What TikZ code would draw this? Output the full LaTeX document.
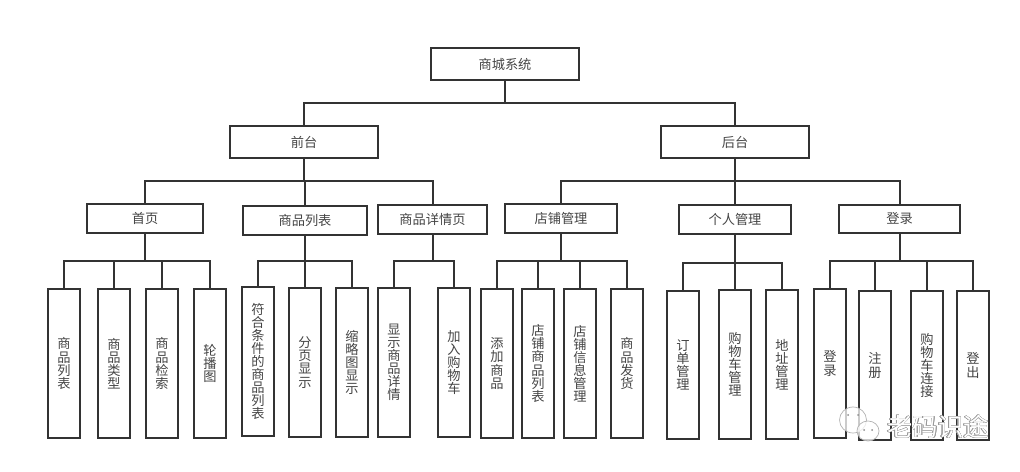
\documentclass[tikz,border=0pt]{standalone}
\usepackage{fontspec}
\usepackage{contour}
\setmainfont{Noto Sans CJK SC}
\contourlength{0.3pt}
\definecolor{linegray}{HTML}{333333}
\definecolor{textgray}{HTML}{444444}
\tikzset{
  topbox/.style={draw=linegray, rectangle, line width=1.42pt, outer sep=0pt, minimum width=3.7cm, minimum height=0.78cm, align=center, text=textgray},
  midbox/.style={draw=linegray, rectangle, line width=1.42pt, outer sep=0pt, minimum height=0.7cm, align=center, text=textgray},
  leafbox/.style={draw=linegray, rectangle, line width=1.42pt, outer sep=0pt, minimum width=0.78cm, minimum height=3.7cm, inner sep=0pt, align=center, text=textgray},
  link/.style={draw=linegray, line width=1.42pt},
  bubble/.style={draw=black!30, line width=0.5pt, fill=white, fill opacity=0.75}
}
\begin{document}
\begin{tikzpicture}[x=0.025cm,y=-0.025cm,font=\fontsize{9.4pt}{9.3pt}\selectfont]
\useasboundingbox (0,0) rectangle (1020,472);
\lineskiplimit=-5pt
% top levels
\node[topbox] (root) at (505,64) {商城系统};
\node[topbox] (front) at (304,142) {前台};
\node[topbox] (back) at (735,142) {后台};
% second level
\node[midbox, minimum width=2.9cm] (home) at (145,218.5) {首页};
\node[midbox, minimum width=3.1cm] (goods) at (305,220.5) {商品列表};
\node[midbox, minimum width=2.7cm] (detail) at (432.5,219.5) {商品详情页};
\node[midbox, minimum width=2.8cm] (shop) at (561,218.5) {店铺管理};
\node[midbox, minimum width=2.8cm] (person) at (735,219.5) {个人管理};
\node[midbox, minimum width=3cm] (login) at (899.5,219) {登录};
% leaves under home
\node[leafbox] (homea) at (64,363.5) {商\\品\\列\\表};
\node[leafbox] (homeb) at (114,363.5) {商\\品\\类\\型};
\node[leafbox] (homec) at (162,363.5) {商\\品\\检\\索};
\node[leafbox] (homed) at (210,363.5) {轮\\播\\图};
% leaves under goods
\node[leafbox] (goodsa) at (258,361.5) {符\\合\\条\\件\\的\\商\\品\\列\\表};
\node[leafbox] (goodsb) at (305,362.5) {分\\页\\显\\示};
\node[leafbox] (goodsc) at (352,362.5) {缩\\略\\图\\显\\示};
% leaves under detail
\node[leafbox] (detaila) at (394,362.5) {显\\示\\商\\品\\详\\情};
\node[leafbox] (detailb) at (454,362.5) {加\\入\\购\\物\\车};
% leaves under shop
\node[leafbox] (shopa) at (497,363.5) {添\\加\\商\\品};
\node[leafbox] (shopb) at (538,363.5) {店\\铺\\商\\品\\列\\表};
\node[leafbox] (shopc) at (580,363.5) {店\\铺\\信\\息\\管\\理};
\node[leafbox] (shopd) at (627,363.5) {商\\品\\发\\货};
% leaves under person
\node[leafbox, minimum width=0.82cm] (persona) at (683,365) {订\\单\\管\\理};
\node[leafbox] (personb) at (735,364.5) {购\\物\\车\\管\\理};
\node[leafbox] (personc) at (782,364.5) {地\\址\\管\\理};
% leaves under login
\node[leafbox] (logina) at (830,363.5) {登\\录};
\node[leafbox] (loginb) at (875,365.5) {注\\册};
\node[leafbox] (loginc) at (927,365.5) {购\\物\\车\\连\\接};
\node[leafbox] (logind) at (973,365.5) {登\\出};
% connectors
\draw[link] (root.south) -- ++(0,23) -| (front.north);
\draw[link] (root.south) -- ++(0,23) -| (back.north);
\draw[link] (front.south) -- ++(0,23) -| (home.north);
\draw[link] (front.south) -- ++(0,23) -| (goods.north);
\draw[link] (front.south) -- ++(0,23) -| (detail.north);
\draw[link] (back.south) -- ++(0,23) -| (shop.north);
\draw[link] (back.south) -- ++(0,23) -| (person.north);
\draw[link] (back.south) -- ++(0,23) -| (login.north);
\draw[link] (home.south) -- ++(0,28) -| (homea.north);
\draw[link] (home.south) -- ++(0,28) -| (homeb.north);
\draw[link] (home.south) -- ++(0,28) -| (homec.north);
\draw[link] (home.south) -- ++(0,28) -| (homed.north);
\draw[link] (goods.south) -- ++(0,26) -| (goodsa.north);
\draw[link] (goods.south) -- ++(0,26) -| (goodsb.north);
\draw[link] (goods.south) -- ++(0,26) -| (goodsc.north);
\draw[link] (detail.south) -- ++(0,27) -| (detaila.north);
\draw[link] (detail.south) -- ++(0,27) -| (detailb.north);
\draw[link] (shop.south) -- ++(0,28) -| (shopa.north);
\draw[link] (shop.south) -- ++(0,28) -| (shopb.north);
\draw[link] (shop.south) -- ++(0,28) -| (shopc.north);
\draw[link] (shop.south) -- ++(0,28) -| (shopd.north);
\draw[link] (person.south) -- ++(0,29) -| (persona.north);
\draw[link] (person.south) -- ++(0,29) -| (personb.north);
\draw[link] (person.south) -- ++(0,29) -| (personc.north);
\draw[link] (login.south) -- ++(0,28) -| (logina.north);
\draw[link] (login.south) -- ++(0,28) -| (loginb.north);
\draw[link] (login.south) -- ++(0,28) -| (loginc.north);
\draw[link] (login.south) -- ++(0,28) -| (logind.north);
% watermark
\draw[bubble] (853,420) ellipse (13.5 and 13);
\draw[bubble] (868,431) ellipse (11 and 10);
\fill[black!45] (848,415) circle (1) (858,415) circle (1) (864,430) circle (1) (872,430) circle (1);
\node[font=\fontsize{18pt}{18pt}\selectfont, inner sep=0pt] (mark) at (938,427) {\contour{gray!80}{\textcolor{white}{老码识途}}};
\end{tikzpicture}
\end{document}
